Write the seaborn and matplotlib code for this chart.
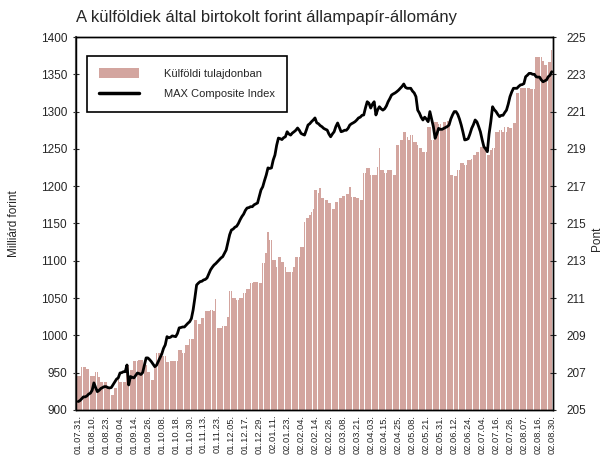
import numpy as np
import pandas as pd
import matplotlib
matplotlib.use("Agg")
import matplotlib.pyplot as plt
import seaborn as sns
from matplotlib.patches import Patch
from matplotlib.lines import Line2D

# tick labels (every 8th business day)
date_labels = ['01.07.31.', '01.08.10.', '01.08.23.', '01.09.04.', '01.09.14.', '01.09.26.',
               '01.10.08.', '01.10.18.', '01.10.30.', '01.11.13.', '01.11.23.', '01.12.05.',
               '01.12.17.', '01.12.29.', '02.01.11.', '02.01.23.', '02.02.04.', '02.02.14.',
               '02.02.26.', '02.03.08.', '02.03.21.', '02.04.03.', '02.04.15.', '02.04.25.',
               '02.05.08.', '02.05.21.', '02.05.31.', '02.06.12.', '02.06.24.', '02.07.04.',
               '02.07.16.', '02.07.26.', '02.08.07.', '02.08.16.', '02.08.30.']

# foreign holdings, billion HUF (daily)
holdings = [
    945, 945, 958, 958, 958, 955, 955, 945,
    945, 945, 951, 951, 944, 938, 938, 938,
    938, 931, 931, 920, 920, 929, 929, 941,
    938, 938, 938, 938, 960, 960, 954, 954,
    965, 965, 965, 967, 967, 967, 960, 960,
    951, 951, 940, 940, 957, 976, 976, 976,
    972, 972, 972, 964, 964, 965, 965, 965,
    965, 965, 980, 980, 976, 976, 987, 987,
    995, 995, 995, 1021, 1021, 1015, 1015, 1023,
    1023, 1032, 1032, 1032, 1034, 1034, 1032, 1049,
    1010, 1010, 1010, 1012, 1012, 1012, 1025, 1059,
    1059, 1050, 1050, 1048, 1048, 1050, 1050, 1057,
    1057, 1062, 1062, 1070, 1070, 1071, 1071, 1071,
    1070, 1070, 1097, 1097, 1110, 1139, 1128, 1128,
    1101, 1101, 1092, 1105, 1105, 1098, 1098, 1092,
    1085, 1085, 1085, 1085, 1092, 1105, 1105, 1105,
    1118, 1118, 1152, 1157, 1157, 1161, 1165, 1170,
    1195, 1195, 1191, 1198, 1184, 1184, 1182, 1182,
    1177, 1177, 1170, 1170, 1179, 1179, 1184, 1184,
    1187, 1187, 1190, 1190, 1199, 1186, 1186, 1186,
    1184, 1184, 1181, 1181, 1218, 1218, 1224, 1224,
    1215, 1215, 1215, 1215, 1226, 1251, 1222, 1222,
    1218, 1218, 1222, 1222, 1222, 1215, 1215, 1255,
    1255, 1262, 1262, 1273, 1273, 1266, 1262, 1269,
    1269, 1259, 1259, 1255, 1251, 1251, 1246, 1246,
    1246, 1279, 1279, 1262, 1262, 1286, 1286, 1283,
    1283, 1278, 1286, 1286, 1287, 1287, 1215, 1215,
    1213, 1213, 1222, 1222, 1231, 1231, 1229, 1229,
    1235, 1235, 1237, 1242, 1242, 1246, 1246, 1253,
    1253, 1253, 1253, 1242, 1242, 1248, 1251, 1251,
    1273, 1273, 1275, 1275, 1273, 1279, 1273, 1279,
    1278, 1278, 1285, 1285, 1325, 1325, 1332, 1332,
    1331, 1331, 1331, 1331, 1330, 1330, 1330, 1373,
    1373, 1373, 1373, 1368, 1362, 1362, 1366, 1366,
    1383,
]

# MAX Composite Index (daily)
max_index = [
    205.45, 205.5, 205.6, 205.7, 205.7, 205.75, 205.85, 205.9,
    206.05, 206.45, 206.2, 205.98, 206.05, 206.15, 206.2, 206.25,
    206.25, 206.2, 206.18, 206.2, 206.35, 206.5, 206.65, 206.72,
    206.98, 207.0, 207.05, 207.05, 207.41, 206.34, 206.79, 206.75,
    206.72, 206.85, 206.98, 206.95, 206.9, 207.0, 207.4, 207.79,
    207.79, 207.7, 207.59, 207.45, 207.32, 207.4, 207.6, 207.79,
    208.0, 208.3, 208.49, 208.93, 208.87, 208.9, 208.97, 208.95,
    208.93, 209.1, 209.4, 209.42, 209.45, 209.45, 209.55, 209.65,
    209.73, 209.9, 210.36, 211.0, 211.7, 211.8, 211.88, 211.9,
    211.97, 212.0, 212.08, 212.3, 212.51, 212.65, 212.77, 212.85,
    212.95, 213.05, 213.15, 213.22, 213.4, 213.58, 214.0, 214.4,
    214.65, 214.7, 214.8, 214.85, 215.0, 215.2, 215.37, 215.5,
    215.7, 215.83, 215.85, 215.9, 215.9, 216.0, 216.05, 216.1,
    216.44, 216.8, 216.97, 217.3, 217.6, 217.98, 217.95, 217.98,
    218.4, 218.67, 219.2, 219.58, 219.55, 219.5, 219.6, 219.65,
    219.92, 219.8, 219.74, 219.85, 219.92, 220.0, 220.12, 220.0,
    219.83, 219.78, 219.74, 220.0, 220.28, 220.35, 220.46, 220.55,
    220.66, 220.4, 220.35, 220.25, 220.19, 220.1, 220.05, 220.01,
    219.8, 219.65, 219.8, 219.92, 220.2, 220.39, 220.15, 219.92,
    219.95, 220.0, 220.0, 220.1, 220.28, 220.35, 220.4, 220.46,
    220.55, 220.66, 220.7, 220.8, 220.82, 221.2, 221.53, 221.45,
    221.19, 221.4, 221.53, 220.82, 221.1, 221.26, 221.15, 221.08,
    221.15, 221.3, 221.53, 221.7, 221.89, 221.95, 222.0, 222.07,
    222.15, 222.25, 222.35, 222.48, 222.3, 222.25, 222.25, 222.25,
    222.1, 222.0, 221.8, 221.08, 220.92, 220.7, 220.55, 220.7,
    220.6, 220.46, 221.0, 220.6, 220.19, 219.57, 219.8, 220.1,
    220.05, 220.05, 220.1, 220.15, 220.2, 220.28, 220.6, 220.82,
    221.0, 221.0, 220.85, 220.6, 220.28, 219.9, 219.48, 219.5,
    219.55, 219.8, 220.1, 220.3, 220.55, 220.45, 220.2, 219.92,
    219.5, 219.12, 219.0, 218.85, 219.8, 220.46, 221.26, 221.1,
    221.0, 220.85, 220.73, 220.8, 220.8, 220.95, 221.08, 221.4,
    221.8, 222.05, 222.25, 222.25, 222.25, 222.35, 222.43, 222.45,
    222.5, 222.87, 222.95, 223.05, 223.05, 223.0, 223.0, 222.87,
    222.85, 222.85, 222.7, 222.6, 222.65, 222.7, 222.87, 222.95,
    223.14,
]

bar_color = '#d3a59f'
df = pd.DataFrame({'day': np.arange(len(holdings)), 'holdings': holdings, 'index': max_index})

sns.set_style('white')
plt.rcParams['font.family'] = ['Liberation Sans', 'DejaVu Sans']

fig = plt.figure(figsize=(6.09, 4.57), dpi=100)
ax = fig.add_axes([0.125, 0.103, 0.783, 0.816])

sns.barplot(data=df, x='day', y='holdings', native_scale=True, color=bar_color,
            width=0.85, saturation=1, ax=ax, linewidth=0)
ax.set_ylim(900, 1400)
ax.set_yticks(np.arange(900, 1401, 50))
ax.set_xlim(-1.2, len(holdings) - 0.3)
ax.set_xticks(np.arange(0, len(holdings), 8))
ax.set_xticklabels(date_labels, rotation=90, fontsize=6.7)
ax.set_xticks(np.arange(0, len(holdings)), minor=True)
ax.tick_params(axis='x', which='both', direction='inout', length=4, width=0.8, pad=1.5, color='black')
ax.tick_params(axis='y', direction='inout', length=5, width=0.8, labelsize=8.5, pad=4)
ax.set_xlabel('')
ax.set_ylabel('Milliárd forint', fontsize=8.5)
ax.yaxis.set_label_coords(-0.118, 0.5)

ax2 = ax.twinx()
sns.lineplot(data=df, x='day', y='index', color='black', linewidth=2, ax=ax2)
ax2.set_ylim(205, 225)
ax2.set_yticks(np.arange(205, 226, 2))
ax2.tick_params(axis='y', direction='inout', length=5, width=0.8, labelsize=8.5, pad=7)
ax2.set_ylabel('Pont', fontsize=8.5)
ax2.yaxis.set_label_coords(1.08, 0.46)
ax2.set_xlabel('')

for a in (ax, ax2):
    for s in a.spines.values():
        s.set_color('black')
        s.set_linewidth(1)
ax.spines['left'].set_color('#555555')
ax.spines['left'].set_linewidth(1.5)

handles = [Patch(facecolor=bar_color, edgecolor='none'),
           Line2D([0], [0], color='black', linewidth=2.5)]
leg = ax2.legend(handles, ['Külföldi tulajdonban', 'MAX Composite Index'],
                 loc='upper left', bbox_to_anchor=(0.023, 0.95), fontsize=8,
                 frameon=True, fancybox=False, edgecolor='black', framealpha=1,
                 handlelength=3.6, handleheight=1.0, borderpad=1.1, labelspacing=0.9,
                 handletextpad=2.2, borderaxespad=0)
leg.get_frame().set_linewidth(1.2)

fig.text(0.125, 0.945, 'A külföldiek által birtokolt forint állampapír-állomány',
         fontsize=12, ha='left', va='bottom')

fig.savefig('out.png', dpi=100)
